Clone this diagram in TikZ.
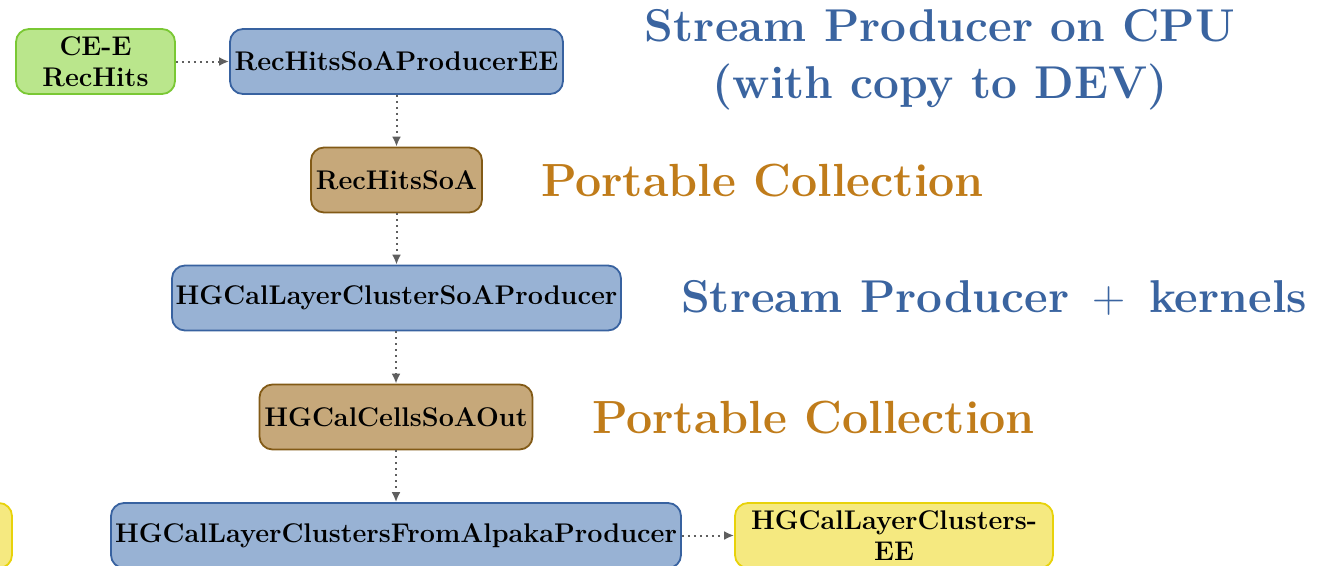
\documentclass[tikz,border=0pt]{standalone}
\usetikzlibrary{arrows.meta}
\definecolor{procfill}{RGB}{152,178,212}
\definecolor{procdraw}{RGB}{56,98,160}
\definecolor{collfill}{RGB}{198,168,122}
\definecolor{colldraw}{RGB}{130,90,22}
\definecolor{srcfill}{RGB}{186,230,140}
\definecolor{srcdraw}{RGB}{122,200,52}
\definecolor{outfill}{RGB}{245,233,128}
\definecolor{outdraw}{RGB}{232,210,10}
\definecolor{titleblue}{RGB}{58,100,160}
\definecolor{titleorange}{RGB}{192,124,26}
\definecolor{flowgray}{RGB}{95,95,95}
\tikzset{
  box/.style={rounded corners=13pt, line width=1.8pt, inner sep=0pt,
    minimum height=65pt, align=center,
    font=\fontsize{27}{31}\selectfont\bfseries},
  proc/.style={box, fill=procfill, draw=procdraw},
  coll/.style={box, fill=collfill, draw=colldraw},
  src/.style={box, fill=srcfill, draw=srcdraw},
  outbox/.style={box, fill=outfill, draw=outdraw},
  flow/.style={draw=flowgray, line width=2pt, dash pattern=on 2pt off 4pt,
    -{Latex[length=10pt,width=9pt]}},
  blabel/.style={text=titleblue, align=center,
    font=\fontsize{46}{57}\selectfont\bfseries},
  olabel/.style={text=titleorange,
    font=\fontsize{46.5}{54}\selectfont\bfseries}
}
\begin{document}
\begin{tikzpicture}[x=1pt,y=-1pt]
\useasboundingbox (0,0) rectangle (1320,565);
\clip (0,0) rectangle (1320,565);

% producers and collections
\node[src, minimum width=159pt] (rechits) at (95.5,61.5) {CE-E\\RecHits};
\node[proc, minimum width=333pt] (soaprod) at (396.5,61.5) {RecHitsSoAProducerEE};
\node[coll, minimum width=171pt] (soa) at (396.5,180) {RecHitsSoA};
\node[proc, minimum width=449pt] (lcprod) at (396.5,298) {HGCalLayerClusterSoAProducer};
\node[coll, minimum width=273pt] (cells) at (396,417) {HGCalCellsSoAOut};
\node[proc, minimum width=570pt] (fromalpaka) at (396,535.5) {HGCalLayerClustersFromAlpakaProducer};
\node[outbox, minimum width=318pt] (clusters) at (894,535.5) {HGCalLayerClusters-\\EE};
\node[outbox, minimum width=300pt] (prevout) at (-138,535.5) {};

% data flow
\draw[flow] (rechits) -- (soaprod);
\draw[flow] (soaprod) -- (soa);
\draw[flow] (soa) -- (lcprod);
\draw[flow] (lcprod.south -| cells.north) -- (cells.north);
\draw[flow] (cells.south) -- (cells.south |- fromalpaka.north);
\draw[flow] (fromalpaka) -- (clusters);

% annotations
\node[blabel] (cpu) at (940,60) {Stream Producer on CPU\\(with copy to DEV)};
\node[olabel] (pc1) at (762.5,181) {Portable Collection};
\node[blabel] (kern) at (994,298) {Stream Producer\hspace{6pt} {\mdseries+}\hspace{6pt} kernels};
\node[olabel] (pc2) at (813.5,418) {Portable Collection};
\end{tikzpicture}
\end{document}
